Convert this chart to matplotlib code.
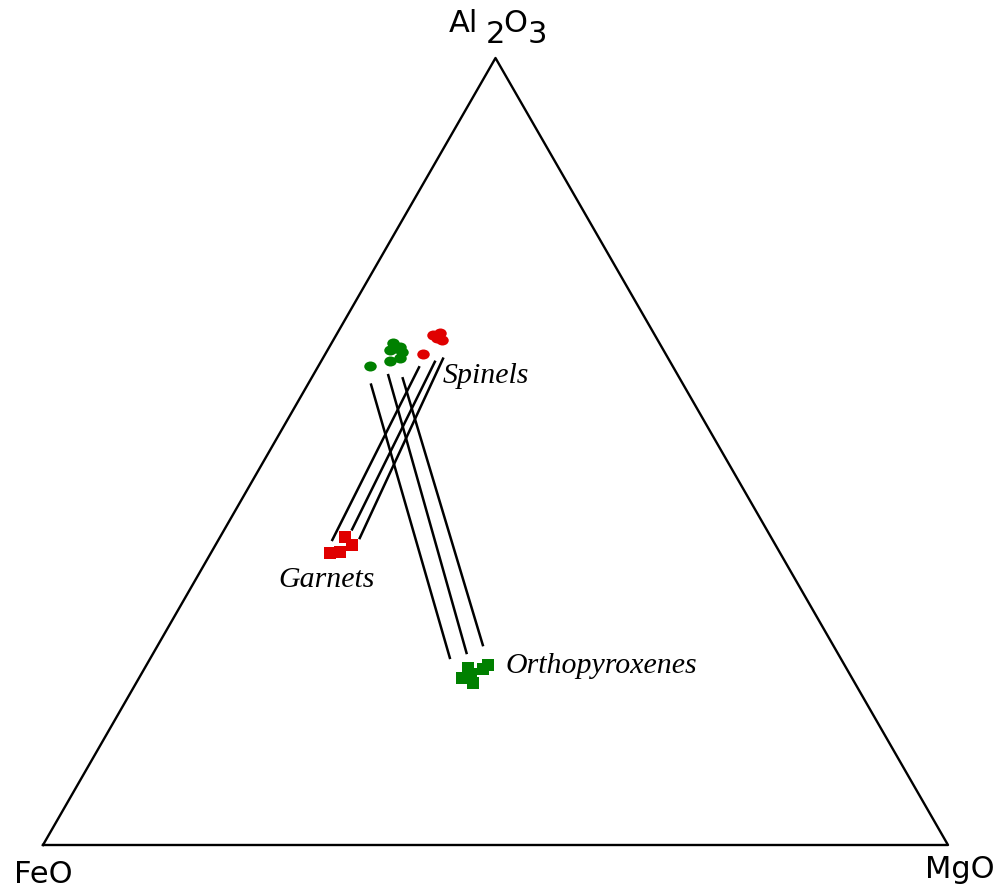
import numpy as np
import matplotlib
matplotlib.use("Agg")
import matplotlib.pyplot as plt
from matplotlib.path import Path
from matplotlib.transforms import Affine2D

# compositions in wt% (FeO, MgO, Al2O3)
sp_green_feo = [29.4, 30.2, 28.9, 29.0, 29.6, 30.9, 33.4, 29.5]
sp_green_mgo = [6.8, 6.9, 7.8, 8.3, 8.5, 7.6, 5.7, 7.3]
sp_green_al = [63.8, 62.9, 63.3, 62.7, 61.9, 61.5, 60.9, 63.2]

sp_red_feo = [24.5, 23.6, 23.8, 24.3, 26.8]
sp_red_mgo = [10.7, 11.3, 12.0, 11.3, 10.8]
sp_red_al = [64.8, 65.1, 64.2, 64.4, 62.4]

grt_feo = [47.1, 46.8, 48.6, 49.7]
grt_mgo = [13.8, 15.1, 14.2, 13.2]
grt_al = [39.1, 38.1, 37.2, 37.1]

opx_feo = [41.8, 39.4, 43.1, 42.2, 40.2, 41.7]
opx_mgo = [35.7, 37.7, 35.7, 37.2, 37.4, 36.2]
opx_al = [22.5, 22.9, 21.2, 20.6, 22.4, 21.7]

# tie lines: garnet -> red spinel
tie_grt_start = [(48.7, 12.6, 38.8), (45.8, 14.1, 40.1), (45.5, 15.5, 39.0)]
tie_grt_end = [(28.1, 11.2, 60.7), (26.0, 12.6, 61.4), (24.9, 13.3, 61.8)]
# tie lines: green spinel -> orthopyroxene
tie_opx_start = [(34.5, 7.0, 58.5), (32.0, 8.3, 59.7), (30.6, 10.1, 59.3)]
tie_opx_end = [(43.2, 33.1, 23.8), (41.0, 34.6, 24.4), (38.7, 35.9, 25.4)]

# label anchor compositions
lab_names = ["Spinels", "Garnets", "Orthopyroxenes"]
lab_comp = [(26.0, 14.4, 59.6), (57.2, 9.1, 33.7), (37.6, 39.7, 22.7)]

H = np.sqrt(3) / 2


def to_xy(feo, mgo, al):
    feo, mgo, al = (np.asarray(v, dtype=float) for v in (feo, mgo, al))
    s = feo + mgo + al
    m, a = mgo / s, al / s
    return m + a / 2, a * H


fig = plt.figure(figsize=(10, 8.88), dpi=100)
ax = fig.add_axes([43 / 1000, 43 / 888, 905 / 1000, 787 / 888])
ax.set_xlim(0, 1)
ax.set_ylim(0, H)
ax.axis("off")

tri_x, tri_y = to_xy([100, 0, 0, 100], [0, 100, 0, 0], [0, 0, 100, 0])
ax.plot(tri_x, tri_y, color="black", lw=1.7, clip_on=False)

red = "#e00000"
green = "#008000"

for st, en in zip(tie_grt_start + tie_opx_start, tie_grt_end + tie_opx_end):
    lx, ly = to_xy([st[0], en[0]], [st[1], en[1]], [st[2], en[2]])
    ax.plot(lx, ly, color="black", lw=1.8)

ellipse = Path.unit_circle().transformed(Affine2D().scale(1.0, 0.8))

x, y = to_xy(sp_green_feo, sp_green_mgo, sp_green_al)
ax.plot(x, y, marker=ellipse, ls="none", color=green, ms=9, mew=0)
x, y = to_xy(sp_red_feo, sp_red_mgo, sp_red_al)
ax.plot(x, y, marker=ellipse, ls="none", color=red, ms=9, mew=0)
x, y = to_xy(grt_feo, grt_mgo, grt_al)
ax.plot(x, y, "s", color=red, ms=9, mew=0)
x, y = to_xy(opx_feo, opx_mgo, opx_al)
ax.plot(x, y, "s", color=green, ms=9, mew=0)

for name, c in zip(lab_names, lab_comp):
    ax.text(*to_xy(*c), name, ha="left", va="center",
            family="Liberation Serif", style="italic", fontsize=21.5)

vfont = dict(family="DejaVu Sans", fontsize=22, annotation_clip=False,
             textcoords="offset pixels")
ax.annotate("FeO", to_xy(100, 0, 0), xytext=(-29, -29),
            ha="left", va="center", **vfont)
ax.annotate("MgO", to_xy(0, 100, 0), xytext=(-23, -24),
            ha="left", va="center", **vfont)
top = to_xy(0, 0, 100)
for piece, dx, dy in [("Al", -47, 26), ("2", -10, 15), ("O", 8, 26), ("3", 32, 15)]:
    ax.annotate(piece, top, xytext=(dx, dy), ha="left", va="baseline", **vfont)

fig.savefig("out.png", dpi=100)
